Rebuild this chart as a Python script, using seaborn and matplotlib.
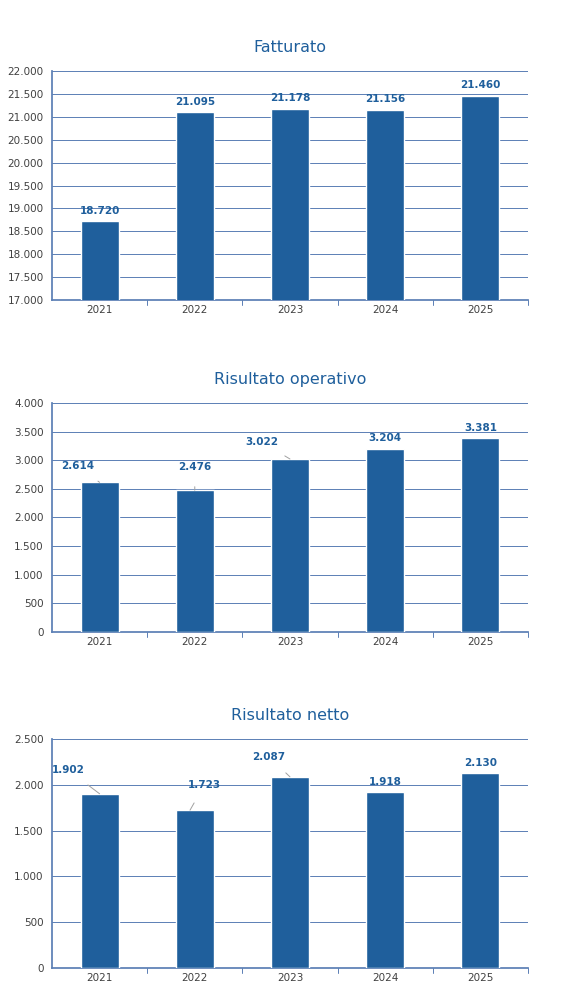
import matplotlib
matplotlib.use("Agg")
import matplotlib.pyplot as plt
import seaborn as sns
import pandas as pd

years = ["2021", "2022", "2023", "2024", "2025"]
fatturato = [18720, 21095, 21178, 21156, 21460]
operativo = [2614, 2476, 3022, 3204, 3381]
netto = [1902, 1723, 2087, 1918, 2130]

BAR = "#1f5f9c"
GRID = "#5b7fb5"
TXT = "#404040"

sns.set_theme(style="white")
plt.rcParams['font.family'] = ['DejaVu Sans']


def fmt(v):
    return f"{v:,}".replace(",", ".")


fig = plt.figure(figsize=(5.79, 10.06), dpi=100)
panels = [
    ("Fatturato", fatturato, (17000, 22000, 500), 0.7018, {}),
    ("Risultato operativo", operativo, (0, 4000, 500), 0.3718,
     {0: (-0.23, 2894), 1: (1.0, 2876), 2: (1.7, 3320)}),
    ("Risultato netto", netto, (0, 2500, 500), 0.0378,
     {0: (-0.33, 2162), 1: (1.1, 1998), 2: (1.78, 2304)}),
]

for title, vals, (lo, hi, step), bottom, moved in panels:
    ax = fig.add_axes([0.0898, bottom, 0.822, 0.2276])
    df = pd.DataFrame({"anno": years, "valore": vals})
    sns.barplot(data=df, x="anno", y="valore", color=BAR, width=0.4,
                saturation=1, ax=ax, zorder=3)
    ax.set_ylim(lo, hi)
    ticks = list(range(lo, hi + 1, step))
    ax.set_yticks(ticks)
    ax.set_yticklabels([fmt(t) for t in ticks], fontsize=7.5, color=TXT)
    ax.tick_params(axis="x", labelsize=7.5, colors=TXT, length=0)
    ax.tick_params(axis="y", length=0, pad=6)
    ax.grid(axis="y", color=GRID, linewidth=0.7, zorder=0)
    ax.set_xlabel("")
    ax.set_ylabel("")
    for s in ["top", "right"]:
        ax.spines[s].set_visible(False)
    ax.spines["left"].set_color(GRID)
    ax.spines["bottom"].set_color(GRID)
    ax.set_xlim(-0.5, 4.5)
    # piccoli trattini tra le categorie sull'asse x
    for xb in [0.5, 1.5, 2.5, 3.5, 4.5]:
        ax.plot([xb, xb], [lo, lo - (hi - lo) * 0.02], color=GRID, lw=0.7,
                clip_on=False)
    ax.set_title(title, fontsize=11.5, color="#1f5f9c", pad=14)
    off = (hi - lo) * 0.045
    for i, v in enumerate(vals):
        if i in moved:
            tx, ty = moved[i]
            ax.annotate(fmt(v), xy=(i - 0.05 if tx > i else i + 0.0, v),
                        xytext=(tx, ty), ha="center", va="center",
                        fontsize=7.5, fontweight="bold", color=BAR,
                        arrowprops=dict(arrowstyle="-", color="#a0a0a0",
                                        lw=0.7, shrinkA=8, shrinkB=0))
        else:
            ax.text(i, v + off, fmt(v), ha="center", va="center",
                    fontsize=7.5, fontweight="bold", color=BAR)

fig.savefig("out.png", dpi=100)
